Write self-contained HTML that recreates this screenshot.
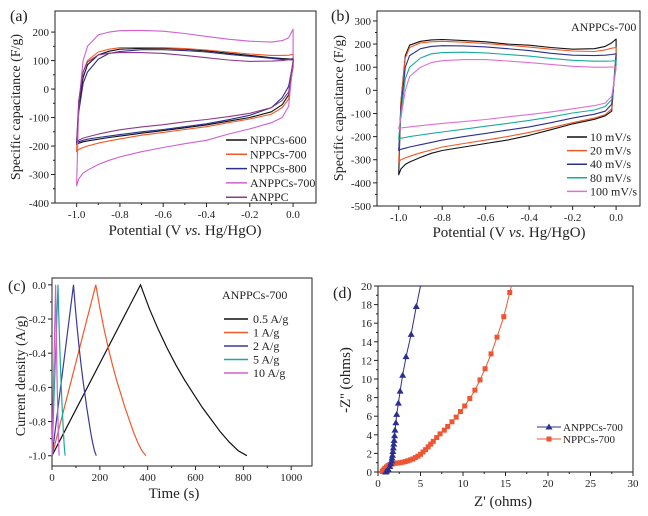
<!DOCTYPE html>
<html><head><meta charset="utf-8"><style>
body{margin:0;background:#fff;width:648px;height:511px;overflow:hidden}
svg{font-family:"Liberation Serif",serif}
</style></head><body>
<svg id="fig" width="648" height="511" viewBox="0 0 648 511" xmlns="http://www.w3.org/2000/svg"></svg>
<script>
const potentials=[-1,-0.99,-0.97,-0.95,-0.9,-0.85,-0.8,-0.7,-0.6,-0.5,-0.4,-0.3,-0.2,-0.1,-0.05,-0.02,0];
const aNames=["NPPCs-600","NPPCs-700","NPPCs-800","ANPPCs-700","ANPPC"];
const aColors=["#111111","#f05a28","#2b2f8f","#d060d0","#8b3a8b"];
const aUpper=[
[-195,-60,40,85,120,133,140,143,143,140,134,126,118,110,107,106,105],
[-220,-40,60,100,130,140,145,146,145,142,137,130,123,118,118,119,122],
[-188,-80,20,60,105,125,132,138,138,135,130,122,115,108,104,103,102],
[-340,-50,100,150,190,200,205,206,203,195,185,175,168,165,170,180,210],
[-185,-40,60,95,120,126,128,128,125,118,110,102,97,98,100,103,108]];
const aLower=[
[-195,-190,-185,-182,-176,-170,-165,-155,-146,-136,-126,-113,-100,-80,-55,-20,80],
[-220,-212,-205,-200,-190,-182,-175,-162,-152,-142,-132,-118,-105,-88,-65,-35,90],
[-188,-185,-180,-176,-170,-165,-160,-150,-142,-132,-122,-108,-92,-65,-30,10,95],
[-340,-315,-295,-285,-265,-250,-238,-220,-205,-192,-180,-158,-140,-118,-100,-60,100],
[-185,-180,-172,-168,-158,-150,-143,-133,-125,-115,-107,-97,-85,-65,-40,-10,100]];
const bNames=["10 mV/s","20 mV/s","40 mV/s","80 mV/s","100 mV/s"];
const bColors=["#111111","#f05a28","#2b2f8f","#1aaa99","#e070d0"];
const bUpper=[
[-365,-50,150,195,212,218,220,215,210,200,195,185,178,180,190,205,222],
[-310,-50,140,185,205,210,212,208,202,195,187,178,170,168,175,182,185],
[-260,-80,100,150,180,190,193,192,188,180,172,160,152,150,152,155,158],
[-210,-100,50,100,140,158,163,165,162,155,148,138,130,126,126,127,128],
[-165,-120,0,60,100,120,128,133,133,127,120,112,104,100,100,101,101]];
const bLower=[
[-365,-340,-320,-310,-290,-272,-260,-245,-230,-215,-195,-170,-145,-125,-110,-90,160],
[-310,-300,-292,-285,-270,-258,-245,-230,-215,-200,-182,-162,-140,-120,-105,-80,150],
[-260,-255,-250,-245,-235,-225,-215,-200,-186,-172,-158,-140,-120,-103,-90,-60,130],
[-210,-207,-204,-200,-193,-186,-180,-168,-155,-143,-130,-115,-98,-85,-70,-40,110],
[-165,-163,-160,-158,-153,-148,-143,-135,-126,-115,-105,-93,-80,-66,-55,-25,95]];
const cNames=["0.5 A/g","1 A/g","2 A/g","5 A/g","10 A/g"];
const cColors=["#111111","#f05a28","#3a3a9a","#1aaa99","#d060d0"];
const cChargeEnd=[370,183,90,25,15];
const cDischargeEnd=[815,393,185,55,30];
const cDischargeShape=[0,0.14,0.26,0.37,0.47,0.56,0.64,0.72,0.79,0.86,0.92,0.97,1.0];
const dAx=[5.0,4.5,3.9,3.3,2.9,2.6,2.4,2.2,2.1,2.0,1.95,1.9,1.85,1.8,1.75,1.7,1.65,1.6,1.5,1.4,1.2,1.0,0.9];
const dAy=[20,17.8,14.8,12.4,10.4,8.7,7.4,6.2,5.3,4.5,3.9,3.4,3.0,2.6,2.2,1.8,1.5,1.2,0.9,0.6,0.3,0.1,0];
const dNx=[15.7,15.5,14.8,14.0,13.3,12.6,12.0,11.4,10.8,10.2,9.7,9.2,8.7,8.2,7.8,7.3,6.9,6.5,6.2,5.9,5.6,5.3,5.0,4.7,4.4,4.1,3.8,3.5,3.2,2.9,2.6,2.3,2.0,1.7,1.4,1.2,1.0,0.8,0.6,0.5];
const dNy=[20,19.3,16.7,14.5,12.7,11.1,9.9,8.8,7.9,7.1,6.5,5.9,5.4,4.9,4.5,4.1,3.7,3.3,3.0,2.7,2.4,2.15,1.9,1.7,1.55,1.4,1.3,1.2,1.12,1.05,1.0,0.97,0.93,0.88,0.8,0.7,0.55,0.4,0.2,0.05];
const aYTicks=[200,100,0,-100,-200,-300,-400];
const bYTicks=[300,200,100,0,-100,-200,-300,-400,-500];
const cvXTicks=[-1.0,-0.8,-0.6,-0.4,-0.2,0.0];
const cYTicks=[0,-0.2,-0.4,-0.6,-0.8,-1.0];
const cXTicks=[0,200,400,600,800,1000];
const dYTicks=[0,2,4,6,8,10,12,14,16,18,20];
const dXTicks=[0,5,10,15,20,25,30];

const NS="http://www.w3.org/2000/svg";
const svg=document.getElementById('fig');
function el(tag,attrs,parent,text){const e=document.createElementNS(NS,tag);for(const k in attrs)e.setAttribute(k,attrs[k]);if(text!==undefined)e.textContent=text;(parent||svg).appendChild(e);return e;}
function scale(d0,d1,r0,r1){return v=>r0+(v-d0)*(r1-r0)/(d1-d0);}
function mids(t){const m=[];for(let i=0;i<t.length-1;i++)m.push((t[i]+t[i+1])/2);return m;}

function frame(g,box,xs,ys,xt,yt,xfmt,yfmt,xminor,yminor){
  el('rect',{x:box.l,y:box.t,width:box.r-box.l,height:box.b-box.t,fill:'none',stroke:'#222','stroke-width':1},g);
  yt.forEach(v=>{const y=ys(v);
    const t=el('line',{x1:box.l-4,x2:box.l,y1:y,y2:y,stroke:'#222'},g);
    
    
    const lb=el('text',{x:box.l-6,y:y+4,'text-anchor':'end','font-size':11,fill:'#222'},g,yfmt(v));
    
    });
  yminor.forEach(v=>{const y=ys(v);el('line',{x1:box.l-2,x2:box.l,y1:y,y2:y,stroke:'#222'},g);});
  xt.forEach(v=>{const x=xs(v);
    const t=el('line',{x1:x,x2:x,y1:box.b,y2:box.b+4,stroke:'#222'},g);
    
    
    const lb=el('text',{x:x,y:box.b+15,'text-anchor':'middle','font-size':11,fill:'#222'},g,xfmt(v));
    
    });
  xminor.forEach(v=>{const x=xs(v);el('line',{x1:x,x2:x,y1:box.b,y2:box.b+2,stroke:'#222'},g);});
}

function cvPanel(name,box,xr,yr,yt,upper,lower,colors,names,legend){
  const g=el('g',{});
  
  
  const xs=scale(xr[0],xr[1],box.l,box.r), ys=scale(yr[0],yr[1],box.b,box.t);
  frame(g,box,xs,ys,cvXTicks,yt,v=>v.toFixed(1),v=>String(v),mids(cvXTicks),mids(yt));
  for(let s=0;s<upper.length;s++){
    let d='';
    potentials.forEach((p,i)=>{d+=(i?'L':'M')+xs(p).toFixed(1)+','+ys(upper[s][i]).toFixed(1);});
    for(let i=potentials.length-1;i>=0;i--)d+='L'+xs(potentials[i]).toFixed(1)+','+ys(lower[s][i]).toFixed(1);
    d+='Z';
    const p=el('path',{d:d,fill:'none',stroke:colors[s],'stroke-width':1.1,'stroke-linejoin':'round'},g);
    
    
  }
  names.forEach((n,i)=>{const y=legend.y0+i*legend.dy;
    const lg=el('g',{},g);
    
    
    el('line',{x1:legend.x,x2:legend.x+legend.w,y1:y,y2:y,stroke:colors[i],'stroke-width':1.5},lg);
    el('text',{x:legend.x+legend.w+3,y:y+4,'font-size':12,fill:'#222'},lg,n);});
  return {g,xs,ys};
}

const A=cvPanel('panel-a-cv',{l:55,t:11,r:316,b:203},[-1.1,0.106],[-400,274],aYTicks,aUpper,aLower,aColors,aNames,{x:226,w:21,y0:140,dy:14.3});
const B=cvPanel('panel-b-cv',{l:377,t:11,r:640,b:206},[-1.1,0.11],[-500,343],bYTicks,bUpper,bLower,bColors,bNames,{x:567,w:20,y0:137,dy:13.6});
el('text',{x:571,y:31,'font-size':12,fill:'#222'},B.g,'ANPPCs-700');

// Panel c
(function(){
  const box={l:52,t:278,r:312,b:466};
  const g=el('g',{});
  
  
  const xs=scale(0,1087,box.l,box.r), ys=scale(-1.06,0.04,box.b,box.t);
  frame(g,box,xs,ys,cXTicks,cYTicks,v=>String(v),v=>v.toFixed(1),[100,300,500,700,900],mids(cYTicks));
  for(let s=0;s<cChargeEnd.length;s++){
    const tc=cChargeEnd[s],td=cDischargeEnd[s];
    let d='M'+xs(0).toFixed(1)+','+ys(-1).toFixed(1)+'L'+xs(tc).toFixed(1)+','+ys(0).toFixed(1);
    const n=cDischargeShape.length-1;
    cDischargeShape.forEach((f,i)=>{const t=tc+(td-tc)*i/n;d+='L'+xs(t).toFixed(1)+','+ys(-f).toFixed(1);});
    const p=el('path',{d:d,fill:'none',stroke:cColors[s],'stroke-width':1.2},g);
    
    
  }
  el('text',{x:222,y:299,'font-size':12,fill:'#222'},g,'ANPPCs-700');
  cNames.forEach((nm,i)=>{const y=319+i*13.5;
    const lg=el('g',{},g);
    
    
    el('line',{x1:224,x2:248,y1:y,y2:y,stroke:cColors[i],'stroke-width':1.5},lg);
    el('text',{x:253,y:y+4,'font-size':12,fill:'#222'},lg,nm);});
  const yt=el('text',{x:0,y:0,'font-size':14,fill:'#222','text-anchor':'middle',transform:'translate(25,376) rotate(-90)'},g,'Current density (A/g)');
  
  
  const xt=el('text',{x:174,y:498,'font-size':15,fill:'#222','text-anchor':'middle'},g,'Time (s)');
  
  
  el('text',{x:8,y:291,'font-size':16,fill:'#222'},g,'(c)');
})();

// Panel d
(function(){
  const box={l:378,t:286,r:633,b:472};
  const g=el('g',{});
  
  
  const xs=scale(0,30,box.l,box.r), ys=scale(0,20,box.b,box.t);
  frame(g,box,xs,ys,dXTicks,dYTicks,v=>String(v),v=>String(v),mids(dXTicks),mids(dYTicks));
  function series(X,Y,color,marker,nm){
    const sg=el('g',{},g);
    
    
    el('polyline',{points:X.map((x,i)=>xs(x).toFixed(1)+','+ys(Y[i]).toFixed(1)).join(' '),fill:'none',stroke:color,'stroke-width':1},sg);
    X.forEach((x,i)=>{if(Y[i]>=19.9)return;const px=xs(x),py=ys(Y[i]);
      let m;
      if(marker==='tri')m=el('polygon',{points:`${px},${py-3.5} ${px-3.5},${py+2.5} ${px+3.5},${py+2.5}`,fill:color},sg);
      else m=el('rect',{x:px-2.5,y:py-2.5,width:5,height:5,fill:color},sg);
      
      });
  }
  series(dNx,dNy,'#ee5533','sq','series-nppcs-700');
  series(dAx,dAy,'#2b2f8f','tri','series-anppcs-700');
  const l1=el('g',{},g);
  
  
  el('line',{x1:537,x2:561,y1:427,y2:427,stroke:'#2b2f8f'},l1);
  el('polygon',{points:'549,423.5 545.5,429.5 552.5,429.5',fill:'#2b2f8f'},l1);
  el('text',{x:563,y:431,'font-size':11,fill:'#222'},l1,'ANPPCs-700');
  const l2=el('g',{},g);
  
  
  el('line',{x1:537,x2:561,y1:439,y2:439,stroke:'#ee5533'},l2);
  el('rect',{x:546.5,y:436.5,width:5,height:5,fill:'#ee5533'},l2);
  el('text',{x:563,y:443,'font-size':11,fill:'#222'},l2,'NPPCs-700');
  const yt=el('text',{x:0,y:0,'font-size':15,fill:'#222','text-anchor':'middle',transform:'translate(350,380) rotate(-90)'},g,"-Z'' (ohms)");
  
  
  const xt=el('text',{x:503,y:506,'font-size':15,fill:'#222','text-anchor':'middle'},g,"Z' (ohms)");
  
  
  el('text',{x:333,y:298,'font-size':16,fill:'#222'},g,'(d)');
})();

// Titles for a and b
(function(){
  const la=el('text',{x:10,y:21,'font-size':16,fill:'#222'},A.g,'(a)');
  
  
  const lb=el('text',{x:331,y:21,'font-size':16,fill:'#222'},B.g,'(b)');
  
  
  const ya=el('text',{x:0,y:0,'font-size':14,fill:'#222','text-anchor':'middle',transform:'translate(20,107) rotate(-90)'},A.g,'Specific capacitance (F/g)');
  
  
  const xa=el('text',{x:185,y:235,'font-size':15,fill:'#222','text-anchor':'middle'},A.g);
  xa.innerHTML='Potential (V <tspan font-style="italic">vs.</tspan> Hg/HgO)';
  
  
  const yb=el('text',{x:0,y:0,'font-size':14,fill:'#222','text-anchor':'middle',transform:'translate(343,108) rotate(-90)'},B.g,'Specific capacitance (F/g)');
  
  
  const xb=el('text',{x:509,y:237,'font-size':15,fill:'#222','text-anchor':'middle'},B.g);
  xb.innerHTML='Potential (V <tspan font-style="italic">vs.</tspan> Hg/HgO)';
  
  
})();
</script>
</body></html>
